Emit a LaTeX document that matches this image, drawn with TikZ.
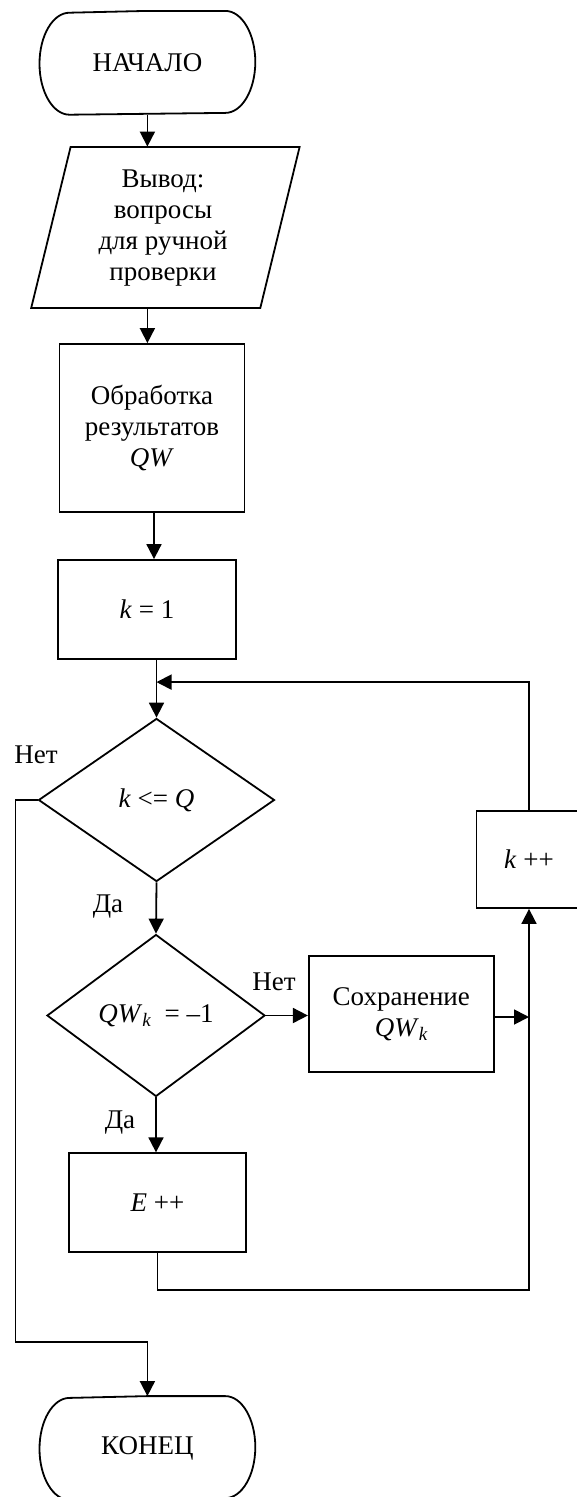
\documentclass[tikz,border=0pt]{standalone}
\usepackage{fontspec}
\setmainfont{Liberation Serif}
\usetikzlibrary{arrows.meta,shapes.geometric}
\newcommand{\qwk}{\textit{QW}\raisebox{-0.35ex}{\fontsize{19}{19}\selectfont\textit{k}}}
\newcommand{\drawterm}[1]{%
  \draw[line join=round] (#1.north) -- ([xshift=-30pt]#1.north east)
    arc[start angle=90,end angle=-90,x radius=30pt,y radius=51pt]
    -- ([xshift=30pt]#1.south west)
    arc[start angle=270,end angle=90,x radius=30pt,y radius=51pt] -- cycle;}
\begin{document}
\begin{tikzpicture}[x=1pt,y=1pt,
  line width=1.8pt,
  every node/.style={font=\fontsize{27}{31}\selectfont, inner sep=0pt, align=center},
  box/.style={draw, rectangle},
  dia/.style={draw, diamond},
  term/.style={rectangle, minimum width=214pt, minimum height=102pt},
  arr/.style={-{Triangle[length=15pt,width=15pt]}},
  ]
\useasboundingbox (0,0) rectangle (576,-1497);
\fill[white] (0,0) rectangle (576,-1497);

% nodes
\node[term] (start) at (147.4,-62.8) {НАЧАЛО};
\drawterm{start}
\node[minimum width=229pt, minimum height=161pt] (out) at (163,-228) {Вывод:\\вопросы\\для ручной\\проверки};
\draw (70.6,-147) -- (299.6,-147) -- (260.3,-308) -- (31.2,-308) -- cycle;
\node[box, minimum width=185pt, minimum height=168pt] (proc) at (152,-428) {Обработка\\результатов\\\textit{QW}};
\node[box, minimum width=178pt, minimum height=99pt] (init) at (147,-609.5) {\textit{k} = 1};
\node[dia, minimum width=236pt, minimum height=163pt] (dec1) at (156.5,-800) {\textit{k} <= \textit{Q}};
\node[dia, minimum width=218pt, minimum height=162pt] (dec2) at (156,-1015.5) {\qwk\ \ = –1};
\node[box, minimum width=185pt, minimum height=116pt] (save) at (401.3,-1014) {Сохранение\\\qwk};
\node[box, minimum width=105pt, minimum height=97pt] (inc) at (529,-859.5) {\textit{k} ++};
\node[box, minimum width=177.5pt, minimum height=98.5pt] (eplus) at (157.5,-1202.5) {\textit{E} ++};
\node[term] (end) at (147.4,-1448) {КОНЕЦ};
\drawterm{end}

% labels
\node (n1) at (36,-755) {Нет};
\node (y1) at (108,-907) {Да};
\node (n2) at (274,-982) {Нет};
\node (y2) at (120,-1123) {Да};

% connectors
\draw[arr] (start.south) -- (start.south |- out.north);
\draw[arr] (start.south |- out.south) -- (start.south |- proc.north);
\draw[arr] ([xshift=2pt]proc.south) -- ([xshift=2pt]proc.south |- init.north);
\draw[arr] (init.south -| dec1.north) -- (dec1.north);
\coordinate (jn) at ([yshift=35.5pt]dec1.north);
\draw[arr] (inc.north) |- (jn);
\draw[arr] (dec1.south) -- (dec2.north);
\draw[arr] (dec2.east) -- (save.west |- dec2.east);
\draw[arr] ([yshift=-3pt]save.east) -- ([yshift=-3pt]save.east -| inc.south);
\draw[arr] (dec2.south) -- (dec2.south |- eplus.north);
\draw[arr] (eplus.south) -- ++(0,-37) -| (inc.south);
\coordinate (lb) at (15.4,-1341.7);
\draw[arr] (dec1.west) -| (lb) -| (end.north);
\end{tikzpicture}
\end{document}
